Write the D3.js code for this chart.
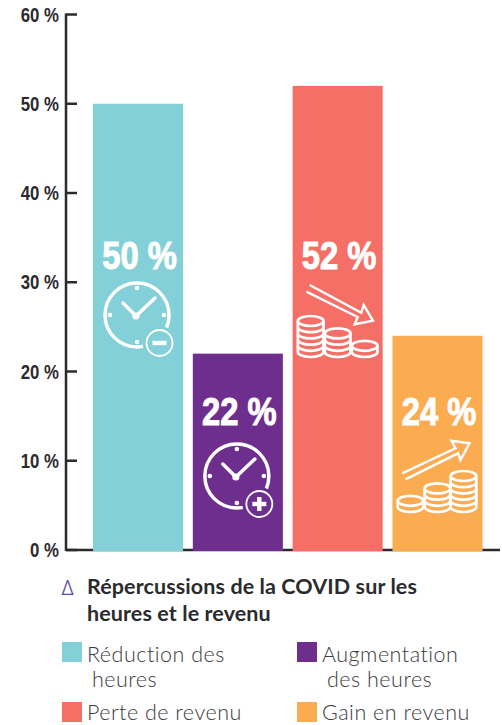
<!DOCTYPE html>
<html>
<head>
<meta charset="utf-8">
<script src="https://cdn.jsdelivr.net/npm/d3@7"></script>
<style>
	html, body { margin: 0; padding: 0; background: #fff; }
	svg { display: block; }
	.tick-label { font-family: "Liberation Sans", sans-serif; font-weight: 700; font-size: 20px; fill: #2b2a2c; }
	.pct { font-family: "Liberation Sans", sans-serif; font-weight: 700; font-size: 39px; fill: #fff; stroke: #fff; stroke-width: 1px; }
	.legend { font-family: Lato, sans-serif; font-weight: 300; font-size: 21.5px; fill: #3a393d; letter-spacing: 0.5px; }
	.legend-title { font-family: Lato, sans-serif; font-weight: 700; font-size: 21.5px; fill: #2b2a2c; letter-spacing: 0.1px; }
</style>
</head>
<body>
<svg id="chart" width="502" height="725"></svg>
<script>
const categories = ["Réduction des heures", "Augmentation des heures", "Perte de revenu", "Gain en revenu"];
const values = [50, 22, 52, 24];
const colors = ["#84d0d8", "#6e2e8d", "#f56f66", "#fbab50"];
const tickValues = [0, 10, 20, 30, 40, 50, 60];
const titleLines = ["Répercussions de la COVID sur les", "heures et le revenu"];

const svg = d3.select("#chart");

const y = d3.scaleLinear().domain([0, 60]).range([550, 14.5]);
const x = d3.scaleBand().domain(categories).range([88, 487.5]).paddingInner(0.098).paddingOuter(0.05);

// condensed look: no narrow face installed, so squeeze the text
const squeeze = 0.84;

// axis
svg.append("line")
	.attr("x1", 66).attr("x2", 500)
	.attr("y1", y(0)).attr("y2", y(0))
	.attr("stroke", "#2b2a2c").attr("stroke-width", 2.5);
svg.append("line")
	.attr("x1", 66).attr("x2", 66)
	.attr("y1", y(60) - 1).attr("y2", y(0) + 1)
	.attr("stroke", "#2b2a2c").attr("stroke-width", 2.5);

const ticks = svg.append("g").selectAll("g").data(tickValues).enter().append("g")
	.attr("transform", (d) => `translate(0,${y(d)})`);
ticks.append("line")
	.attr("x1", 66).attr("x2", 77)
	.attr("stroke", "#2b2a2c").attr("stroke-width", 2.5);
ticks.append("text")
	.attr("class", "tick-label")
	.attr("transform", `translate(59,7) scale(${squeeze},1)`)
	.attr("text-anchor", "end")
	.text((d) => `${d} %`);

// bars
svg.append("g").selectAll("rect").data(categories).enter().append("rect")
	.attr("x", (d) => x(d))
	.attr("y", (d, i) => y(values[i]))
	.attr("width", x.bandwidth())
	.attr("height", (d, i) => y(0) - y(values[i]) + 1)
	.attr("fill", (d, i) => colors[i]);

// value labels
const labelBaselines = [269, 425, 269, 425];
svg.append("g").selectAll("text").data(values).enter().append("text")
	.attr("class", "pct")
	.attr("transform", (d, i) => `translate(${x(categories[i]) + x.bandwidth() / 2 + 1.5},${labelBaselines[i]}) scale(${squeeze},1)`)
	.attr("text-anchor", "middle")
	.text((d) => `${d} %`);

function drawClock(cat, cy, fill, plus) {
	const cx = x(cat) + x.bandwidth() / 2 - 1;
	const g = svg.append("g").attr("transform", `translate(${cx},${cy})`);
	g.append("circle").attr("r", 32).attr("fill", "none").attr("stroke", "#fff").attr("stroke-width", 3.5);
	[[0, -27], [27, 0], [0, 27], [-27, 0]].forEach((p) => {
		g.append("circle").attr("cx", p[0]).attr("cy", p[1]).attr("r", 2.3).attr("fill", "#fff");
	});
	g.append("path")
		.attr("d", "M-14,-12 L-1,1 L18,-17")
		.attr("fill", "none").attr("stroke", "#fff").attr("stroke-width", 3.5).attr("stroke-linecap", "round");
	g.append("circle").attr("cx", -1).attr("cy", 1).attr("r", 3.6).attr("fill", "#fff");
	const b = g.append("g").attr("transform", "translate(22.5,28)");
	b.append("circle").attr("r", 17).attr("fill", fill);
	b.append("circle").attr("r", 13).attr("fill", fill).attr("stroke", "#fff").attr("stroke-width", 1.8);
	b.append("rect").attr("x", -7).attr("y", -2.2).attr("width", 14).attr("height", 4.4).attr("fill", "#fff");
	if (plus) {
		b.append("rect").attr("x", -2.2).attr("y", -7).attr("width", 4.4).attr("height", 14).attr("fill", "#fff");
	}
}

function drawCoinStack(g, cx, bottom, layers, fill) {
	const rx = 12.8, ry = 5, gap = 6.2;
	for (let i = 0; i < layers; i++) {
		const yb = bottom - i * gap;
		g.append("path")
			.attr("d", `M${cx - rx},${yb - ry - gap} V${yb - ry} A${rx},${ry} 0 0 0 ${cx + rx},${yb - ry} V${yb - ry - gap}`)
			.attr("fill", fill).attr("stroke", "#fff").attr("stroke-width", 2.7);
	}
	g.append("ellipse")
		.attr("cx", cx).attr("cy", bottom - ry - layers * gap)
		.attr("rx", rx).attr("ry", ry)
		.attr("fill", fill).attr("stroke", "#fff").attr("stroke-width", 2.7);
}

function drawArrow(g, d) {
	g.append("path").attr("d", d)
		.attr("fill", "none").attr("stroke", "#fff").attr("stroke-width", 2.4).attr("stroke-linejoin", "miter");
}

// money icons, offsets from the bar centre
const barDown = x(categories[2]) + x.bandwidth() / 2;
const down = svg.append("g").attr("transform", `translate(${barDown},0)`);
drawArrow(down, "M-28,285 L23.7,312.7 L26,305 L35.3,320.7 L17,324.3 L20,317 L-31.3,291.7");
drawCoinStack(down, -27, 357, 5, colors[2]);
drawCoinStack(down, 0, 357, 3, colors[2]);
drawCoinStack(down, 27, 357, 1, colors[2]);

const barUp = x(categories[3]) + x.bandwidth() / 2;
const up = svg.append("g").attr("transform", `translate(${barUp},0)`);
drawArrow(up, "M-35.3,473.3 L18,448.3 L14,440.7 L32,443.3 L23,460 L20.7,453.3 L-32,479.3");
drawCoinStack(up, 26, 512, 5, colors[3]);
drawCoinStack(up, 0, 512, 3, colors[3]);
drawCoinStack(up, -27, 512, 1, colors[3]);

drawClock(categories[0], 315, colors[0], false);
drawClock(categories[1], 476, colors[1], true);

// legend
svg.append("text").attr("x", 61).attr("y", 595)
	.attr("font-family", "Inter, sans-serif").attr("font-weight", 300).attr("font-size", 20).attr("fill", "#5a4fb3")
	.text("Δ");
titleLines.forEach((t, i) => {
	svg.append("text").attr("class", "legend-title").attr("x", 87).attr("y", 594 + i * 27).text(t);
});

const legendRows = [
	{ cat: 0, sx: 62, sy: 642, ty: 662, lines: ["Réduction des", "heures"], tx: [87, 92] },
	{ cat: 1, sx: 297, sy: 642, ty: 662, lines: ["Augmentation", "des heures"], tx: [322, 327] },
	{ cat: 2, sx: 62, sy: 702, ty: 720, lines: ["Perte de revenu"], tx: [87] },
	{ cat: 3, sx: 297, sy: 702, ty: 720, lines: ["Gain en revenu"], tx: [322] }
];
legendRows.forEach((r) => {
	svg.append("rect").attr("x", r.sx).attr("y", r.sy).attr("width", 20).attr("height", 20).attr("fill", colors[r.cat]);
	r.lines.forEach((t, i) => {
		svg.append("text").attr("class", "legend").attr("x", r.tx[i]).attr("y", r.ty + i * 24.5).text(t);
	});
});
</script>
</body>
</html>
